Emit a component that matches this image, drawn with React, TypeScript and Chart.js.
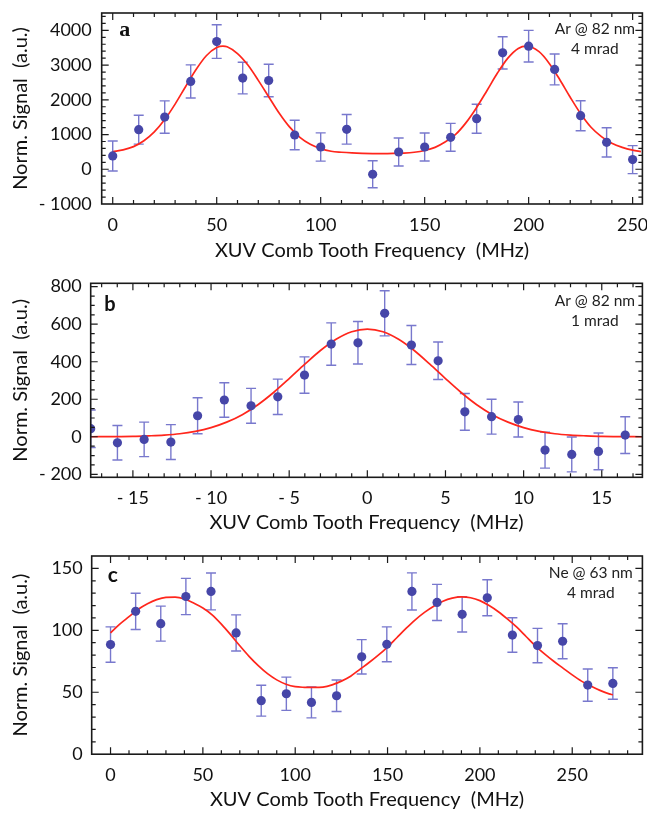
import React, { useEffect, useRef } from "react";
import { Chart, registerables } from "chart.js";

Chart.register(...registerables);

// ---------- Panel a ----------
const aFreq = [0, 12.5, 25, 37.5, 50, 62.5, 75, 87.5, 100, 112.5, 125, 137.5, 150, 162.5, 175, 187.5, 200, 212.5, 225, 237.5, 250];
const aSignal = [383, 1140, 1504, 2529, 3678, 2625, 2557, 987, 642, 1150, -144, 498, 642, 920, 1456, 3352, 3544, 2874, 1542, 776, 278];
const aError = [431, 417, 465, 478, 484, 455, 469, 426, 407, 426, 388, 402, 402, 402, 417, 465, 455, 445, 431, 421, 402];
const aFitFreq = [0, 5, 10, 15, 20, 25, 30, 35, 40, 45, 50, 53, 55, 60, 65, 70, 75, 80, 85, 90, 95, 100, 105, 110, 115, 120, 125, 130, 135, 140, 145, 150, 155, 160, 165, 170, 175, 180, 185, 190, 195, 199, 205, 210, 215, 220, 225, 230, 235, 240, 245, 250, 254];
const aFitSignal = [505, 560, 653, 821, 1077, 1431, 1877, 2376, 2866, 3269, 3505, 3545, 3527, 3331, 3000, 2560, 2090, 1620, 1220, 920, 720, 595, 520, 490, 470, 458, 452, 450, 455, 465, 490, 540, 630, 790, 1010, 1350, 1780, 2270, 2770, 3200, 3480, 3545, 3386, 3042, 2578, 2073, 1600, 1210, 940, 750, 630, 550, 510];
const aXTicks = [0, 50, 100, 150, 200, 250];
const aYTicks = [-1000, 0, 1000, 2000, 3000, 4000];

// ---------- Panel b ----------
const bFreq = [-17.7, -15.99, -14.28, -12.57, -10.86, -9.15, -7.44, -5.73, -4.02, -2.31, -0.6, 1.11, 2.82, 4.53, 6.24, 7.95, 9.66, 11.37, 13.08, 14.79, 16.5];
const bSignal = [43, -32, -14, -28, 112, 196, 165, 213, 329, 494, 501, 658, 489, 405, 133, 107, 92, -71, -94, -78, 9];
const bError = [100, 92, 92, 93, 96, 92, 93, 94, 97, 113, 113, 120, 104, 100, 98, 93, 93, 96, 93, 98, 98];
const bFitFreq = [-17.7, -16, -15, -14, -13, -12, -11, -10, -9, -8, -7, -6, -5, -4, -3, -2, -1, 0, 1, 2, 3, 4, 5, 6, 7, 8, 9, 10, 11, 12, 13, 14, 15, 16, 17.6];
const bFitSignal = [0, 1, 2, 5, 9, 16, 29, 49, 78, 118, 171, 236, 310, 387, 460, 520, 560, 574, 560, 520, 460, 387, 310, 236, 171, 118, 78, 49, 29, 16, 9, 5, 2, 1, 0];
const bXTicks = [-15, -10, -5, 0, 5, 10, 15];
const bYTicks = [-200, 0, 200, 400, 600, 800];

// ---------- Panel c ----------
const cFreq = [0, 13.6, 27.2, 40.8, 54.4, 68, 81.6, 95.2, 108.8, 122.4, 136, 149.6, 163.2, 176.8, 190.4, 204, 217.6, 231.2, 244.8, 258.4, 272];
const cSignal = [88.5, 115.3, 105.4, 127.3, 131.4, 97.9, 43.2, 48.8, 41.8, 47.2, 78.6, 88.7, 131.4, 122.5, 112.9, 126.3, 96.2, 87.7, 91.2, 55.8, 57.1];
const cError = [14.3, 14.6, 14.1, 14.6, 14.9, 14.6, 12.5, 13.4, 12.5, 12.7, 13.9, 14.1, 15, 14.6, 14.3, 14.5, 13.9, 13.9, 14.1, 13, 12.7];
const cFitFreq = [0, 5, 10, 15, 20, 25, 30, 35, 40, 45, 50, 55, 60, 65, 70, 75, 80, 85, 90, 95, 100, 105, 110, 115, 120, 125, 130, 135, 140, 145, 150, 155, 160, 165, 170, 175, 180, 185, 190, 195, 200, 205, 210, 215, 220, 225, 230, 235, 240, 245, 250, 255, 260, 265, 270, 272];
const cFitSignal = [98, 105, 111, 117, 121.5, 124.8, 126.6, 126.8, 125.3, 122, 118, 112.5, 105, 96.5, 87.5, 79, 71.5, 65, 60, 56.5, 54.5, 54, 53.9, 54.2, 56, 59, 63, 68.5, 74, 80, 86.5, 94, 101.5, 108.5, 114.5, 119.5, 123.5, 126, 127, 126.3, 124, 120, 115, 109, 102.5, 95, 87.5, 81, 75, 69.5, 64, 59, 55, 51.5, 48.7, 48];
const cXTicks = [0, 50, 100, 150, 200, 250];
const cYTicks = [0, 50, 100, 150];

const X_TITLE = "XUV Comb Tooth Frequency  (MHz)";
const Y_TITLE = "Norm. Signal  (a.u.)";

const FONT = "Lato, 'Open Sans', sans-serif";
const W = 647;

const fmt = (v: number) => (v < 0 ? "- " + Math.abs(v) : String(v));

type PanelCfg = {
  top: number;
  height: number;
  area: { left: number; right: number; top: number; bottom: number };
  xRange: [number, number];
  yRange: [number, number];
  xMinor: number;
  yMinor: number;
  freq: number[];
  signal: number[];
  err: number[];
  fitFreq: number[];
  fitSignal: number[];
  xTicks: number[];
  yTicks: number[];
  letter: string;
  letterFont: string;
  letterPos: [number, number];
  note: string[];
  notePos: [number, number];
  yTickPad: number;
  xTickPad: number;
  xTitlePad: number;
  yTitlePad: number;
};

const panels: PanelCfg[] = [
  {
    top: 0,
    height: 270,
    area: { left: 101.7, right: 645, top: 13, bottom: 204 },
    xRange: [-5.3, 254.7],
    yRange: [-1000, 4500],
    xMinor: 10,
    yMinor: 200,
    freq: aFreq,
    signal: aSignal,
    err: aError,
    fitFreq: aFitFreq,
    fitSignal: aFitSignal,
    xTicks: aXTicks,
    yTicks: aYTicks,
    letter: "a",
    letterFont: "bold 22px 'Liberation Serif', serif",
    letterPos: [23, 17.7],
    note: ["Ar @ 82 nm", "4 mrad"],
    notePos: [47.5, 16.3],
    yTickPad: 10,
    xTickPad: 10,
    xTitlePad: 7,
    yTitlePad: 8.5,
  },
  {
    top: 270,
    height: 270,
    area: { left: 90.7, right: 645, top: 13.3, bottom: 207.3 },
    xRange: [-17.7, 17.6],
    yRange: [-216, 818],
    xMinor: 1,
    yMinor: 50,
    freq: bFreq,
    signal: bSignal,
    err: bError,
    fitFreq: bFitFreq,
    fitSignal: bFitSignal,
    xTicks: bXTicks,
    yTicks: bYTicks,
    letter: "b",
    letterFont: "bold 20px Lato, sans-serif",
    letterPos: [19.3, 21.7],
    note: ["Ar @ 82 nm", "1 mrad"],
    notePos: [47.5, 17.7],
    yTickPad: 9,
    xTickPad: 10,
    xTitlePad: 5,
    yTitlePad: 8.5,
  },
  {
    top: 540,
    height: 274,
    area: { left: 91.7, right: 646, top: 16, bottom: 214.2 },
    xRange: [-10.2, 288],
    yRange: [0, 160],
    xMinor: 10,
    yMinor: 10,
    freq: cFreq,
    signal: cSignal,
    err: cError,
    fitFreq: cFitFreq,
    fitSignal: cFitSignal,
    xTicks: cXTicks,
    yTicks: cYTicks,
    letter: "c",
    letterFont: "bold 21px Lato, sans-serif",
    letterPos: [21, 19.7],
    note: ["Ne @ 63 nm", "4 mrad"],
    notePos: [51.6, 17.3],
    yTickPad: 9,
    xTickPad: 10,
    xTitlePad: 2,
    yTitlePad: 8.5,
  },
];

function minorValues(min: number, max: number, step: number) {
  const out: number[] = [];
  const start = Math.ceil(min / step) * step;
  for (let v = start; v <= max + 1e-9; v += step) out.push(Math.round(v * 1000) / 1000);
  return out;
}

function Panel({ cfg }: { cfg: PanelCfg }) {
  const ref = useRef<HTMLCanvasElement | null>(null);
  useEffect(() => {
    const canvas = ref.current;
    if (!canvas) return;
    const H = cfg.height;
    const pts = cfg.freq.map((x, i) => ({ x, y: cfg.signal[i] }));
    const fit = cfg.fitFreq.map((x, i) => ({ x, y: cfg.fitSignal[i] }));

    const plugin = {
      id: "frameAndErrors",
      beforeDatasetsDraw(chart: any) {
        const { ctx, chartArea: ca, scales } = chart;
        const xs = scales.x;
        const ys = scales.y;
        ctx.save();
        ctx.beginPath();
        ctx.rect(ca.left, ca.top, ca.right - ca.left, ca.bottom - ca.top);
        ctx.clip();
        ctx.strokeStyle = "rgba(96,96,196,0.85)";
        ctx.lineWidth = 1.4;
        cfg.freq.forEach((x, i) => {
          const px = xs.getPixelForValue(x);
          const y1 = ys.getPixelForValue(cfg.signal[i] + cfg.err[i]);
          const y2 = ys.getPixelForValue(cfg.signal[i] - cfg.err[i]);
          ctx.beginPath();
          ctx.moveTo(px, y1);
          ctx.lineTo(px, y2);
          ctx.moveTo(px - 5, y1);
          ctx.lineTo(px + 5, y1);
          ctx.moveTo(px - 5, y2);
          ctx.lineTo(px + 5, y2);
          ctx.stroke();
        });
        ctx.restore();
      },
      afterDatasetsDraw(chart: any) {
        const { ctx, chartArea: ca, scales } = chart;
        const xs = scales.x;
        const ys = scales.y;
        ctx.save();
        ctx.strokeStyle = "#1a1a1a";
        ctx.lineWidth = 1.2;
        const majX = cfg.xTicks;
        const majY = cfg.yTicks;
        const minX = minorValues(cfg.xRange[0], cfg.xRange[1], cfg.xMinor).filter((v) => !majX.includes(v));
        const minY = minorValues(cfg.yRange[0], cfg.yRange[1], cfg.yMinor).filter((v) => !majY.includes(v));
        const drawX = (vals: number[], len: number) => {
          vals.forEach((v) => {
            const p = xs.getPixelForValue(v);
            if (p < ca.left + 1 || p > ca.right - 1) return;
            ctx.beginPath();
            ctx.moveTo(p, ca.bottom);
            ctx.lineTo(p, ca.bottom - len);
            ctx.moveTo(p, ca.top);
            ctx.lineTo(p, ca.top + len);
            ctx.stroke();
          });
        };
        const drawY = (vals: number[], len: number) => {
          vals.forEach((v) => {
            const p = ys.getPixelForValue(v);
            if (p < ca.top + 1 || p > ca.bottom - 1) return;
            ctx.beginPath();
            ctx.moveTo(ca.left, p);
            ctx.lineTo(ca.left + len, p);
            ctx.moveTo(ca.right, p);
            ctx.lineTo(ca.right - len, p);
            ctx.stroke();
          });
        };
        drawX(majX, 7);
        drawX(minX, 4);
        drawY(majY, 7);
        drawY(minY, 4);
        ctx.lineWidth = 1.6;
        ctx.strokeRect(ca.left, ca.top, ca.right - ca.left, ca.bottom - ca.top);

        // panel letter
        ctx.fillStyle = "#111";
        ctx.font = cfg.letterFont;
        ctx.textAlign = "center";
        ctx.textBaseline = "middle";
        ctx.fillText(cfg.letter, ca.left + cfg.letterPos[0], ca.top + cfg.letterPos[1]);

        // note
        ctx.font = "15.5px " + FONT;
        ctx.fillStyle = "#222";
        ctx.fillText(cfg.note[0], ca.right - cfg.notePos[0], ca.top + cfg.notePos[1]);
        ctx.fillText(cfg.note[1], ca.right - cfg.notePos[0], ca.top + cfg.notePos[1] + 19.5);
        ctx.restore();
      },
    };

    const chart = new Chart(canvas, {
      type: "scatter",
      data: {
        datasets: [
          {
            data: pts,
            backgroundColor: "rgb(70,70,168)",
            borderColor: "rgb(70,70,168)",
            pointRadius: 4.6,
            pointBorderWidth: 0,
            showLine: false,
            clip: 0,
          } as any,
          {
            data: fit,
            showLine: true,
            borderColor: "rgb(255,38,28)",
            borderWidth: 1.7,
            pointRadius: 0,
            cubicInterpolationMode: "monotone",
            clip: 0,
          } as any,
        ],
      },
      options: {
        animation: false,
        responsive: false,
        maintainAspectRatio: false,
        devicePixelRatio: 1,
        events: [],
        layout: {
          padding: { left: 0, top: cfg.area.top, right: W - cfg.area.right, bottom: 0 },
        },
        plugins: { legend: { display: false }, tooltip: { enabled: false } },
        scales: {
          x: {
            type: "linear",
            min: cfg.xRange[0],
            max: cfg.xRange[1],
            afterBuildTicks: (s: any) => {
              s.ticks = cfg.xTicks.map((v) => ({ value: v }));
            },
            afterFit: (s: any) => {
              s.height = H - cfg.area.bottom;
              s.paddingLeft = 0;
              s.paddingRight = 0;
            },
            grid: { display: false, drawTicks: false },
            border: { display: false },
            ticks: {
              padding: cfg.xTickPad,
              maxRotation: 0,
              autoSkip: false,
              color: "#111",
              font: { family: FONT, size: 18 },
              callback: (v: any) => fmt(Number(v)),
            },
            title: {
              display: true,
              text: X_TITLE,
              color: "#111",
              font: { family: FONT, size: 20 },
              padding: { top: 0, bottom: cfg.xTitlePad },
            },
          },
          y: {
            type: "linear",
            min: cfg.yRange[0],
            max: cfg.yRange[1],
            afterBuildTicks: (s: any) => {
              s.ticks = cfg.yTicks.map((v) => ({ value: v }));
            },
            afterFit: (s: any) => {
              s.width = cfg.area.left;
              s.paddingTop = 0;
              s.paddingBottom = 0;
            },
            grid: { display: false, drawTicks: false },
            border: { display: false },
            ticks: {
              padding: cfg.yTickPad,
              color: "#111",
              font: { family: FONT, size: 18 },
              callback: (v: any) => fmt(Number(v)),
            },
            title: {
              display: true,
              text: Y_TITLE,
              color: "#111",
              font: { family: FONT, size: 20 },
              padding: { top: cfg.yTitlePad, bottom: 0 },
            },
          },
        },
      },
      plugins: [plugin],
    } as any);
    return () => chart.destroy();
  }, [cfg]);

  return (
    <canvas
      ref={ref}
      width={W}
      height={cfg.height}
      style={{ position: "absolute", left: 0, top: cfg.top, width: W, height: cfg.height }}
    />
  );
}

export default function App() {
  return (
    <div style={{ position: "absolute", left: 0, top: 0, width: W, height: 814, background: "#fff" }}>
      {panels.map((p, i) => (
        <Panel key={i} cfg={p} />
      ))}
    </div>
  );
}
